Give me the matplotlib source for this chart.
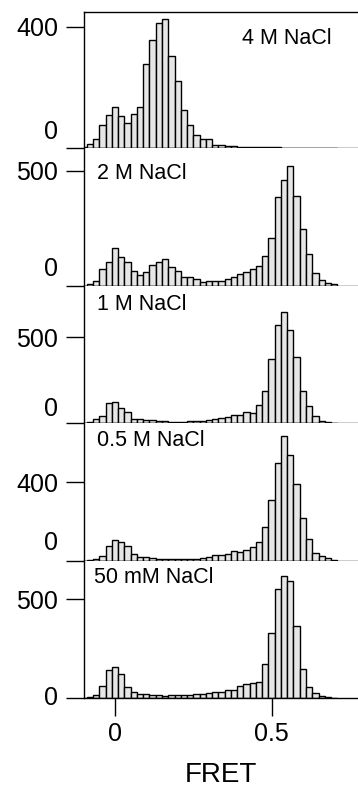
import numpy as np
import matplotlib
matplotlib.use("Agg")
import matplotlib.pyplot as plt

plt.rcParams['font.family'] = ['Liberation Sans', 'DejaVu Sans']

# FRET histograms, bin width 0.02, bin centres -0.10 ... 0.70
fret_bins = np.arange(-5, 36) * 0.02

counts_4M = [5, 14, 31, 75, 108, 135, 105, 82, 113, 137, 278, 357, 413, 426, 303, 220,
             127, 75, 45, 30, 32, 12, 10, 9, 7, 5, 4, 4, 3, 3, 3, 3, 2, 2, 1, 0, 0, 0, 0, 0, 0]
counts_2M = [0, 7, 22, 74, 105, 166, 127, 105, 62, 45, 59, 91, 105, 116, 80, 65, 40, 36,
             30, 16, 22, 19, 22, 29, 40, 52, 59, 74, 87, 131, 206, 384, 460, 522, 392, 247,
             139, 55, 23, 12, 6]
counts_1M = [0, 4, 18, 39, 116, 122, 86, 59, 20, 18, 14, 12, 10, 6, 4, 4, 4, 6, 6, 8, 12,
             20, 24, 35, 43, 43, 59, 55, 104, 182, 373, 575, 651, 545, 382, 182, 94, 39, 6, 2, 0]
counts_05M = [0, 2, 7, 26, 75, 105, 97, 75, 34, 20, 17, 12, 7, 7, 7, 7, 9, 7, 10, 12, 20,
              27, 31, 34, 51, 46, 56, 68, 94, 173, 311, 497, 638, 537, 391, 219, 111, 41, 26, 14, 3]
counts_50mM = [0, 3, 17, 62, 143, 157, 123, 56, 29, 20, 20, 15, 15, 10, 17, 17, 13, 13, 19,
               19, 24, 30, 30, 42, 39, 59, 69, 77, 81, 173, 330, 552, 616, 594, 364, 145, 56,
               27, 8, 7, 0]

labels = ["4 M NaCl", "2 M NaCl", "1 M NaCl", "0.5 M NaCl", "50 mM NaCl"]
all_counts = [counts_4M, counts_2M, counts_1M, counts_05M, counts_50mM]
y_ticks = [400, 500, 500, 400, 500]
y_max = [449, 598, 803, 705, 696]

# panel layout in pixels (from top)
W, H = 358, 787
edges_px = [11.7, 148.3, 285.7, 422.5, 560.7, 698.0]
left_px = 83.7
label_pos = [(0.577, 0.807), (0.048, 0.817), (0.048, 0.859), (0.048, 0.868), (0.038, 0.874)]
zero_shift = [12, 12, 10, 12.5, 0]

fig = plt.figure(figsize=(W / 100, H / 100), dpi=100)

for i in range(5):
    top, bot = edges_px[i], edges_px[i + 1]
    ax = fig.add_axes([left_px / W, 1 - bot / H, 1 - left_px / W, (bot - top) / H])
    ax.bar(fret_bins, all_counts[i], width=0.02, align='center',
           facecolor='#e6e6e6', edgecolor='black', linewidth=1.0)
    ax.set_xlim(-0.1, 0.776)
    ax.set_ylim(0, y_max[i])

    ax.spines['right'].set_visible(False)
    if i > 0:
        ax.spines['top'].set_visible(False)
    for s in ax.spines.values():
        s.set_linewidth(1.0)

    ax.set_yticks([0, y_ticks[i]])
    ax.set_yticklabels(['', str(y_ticks[i])])
    ax.tick_params(axis='y', direction='out', length=13, width=1.0, labelsize=18, pad=5.5)
    ax.annotate('0', xy=(0, 0), xycoords=('axes fraction', 'data'),
                xytext=(-18.5, zero_shift[i]), textcoords='offset points',
                ha='right', va='center', fontsize=18)

    if i < 4:
        ax.tick_params(axis='x', bottom=False, labelbottom=False)
    else:
        ax.set_xticks([0, 0.5])
        ax.set_xticklabels(['0', '0.5'])
        ax.tick_params(axis='x', direction='out', length=13, width=1.0, labelsize=18, pad=4.5)
        ax.set_xlabel('FRET', fontsize=20, labelpad=11)

    ax.text(label_pos[i][0], label_pos[i][1], labels[i], transform=ax.transAxes,
            ha='left', va='center', fontsize=15.5)

fig.savefig('out.png', dpi=100)
